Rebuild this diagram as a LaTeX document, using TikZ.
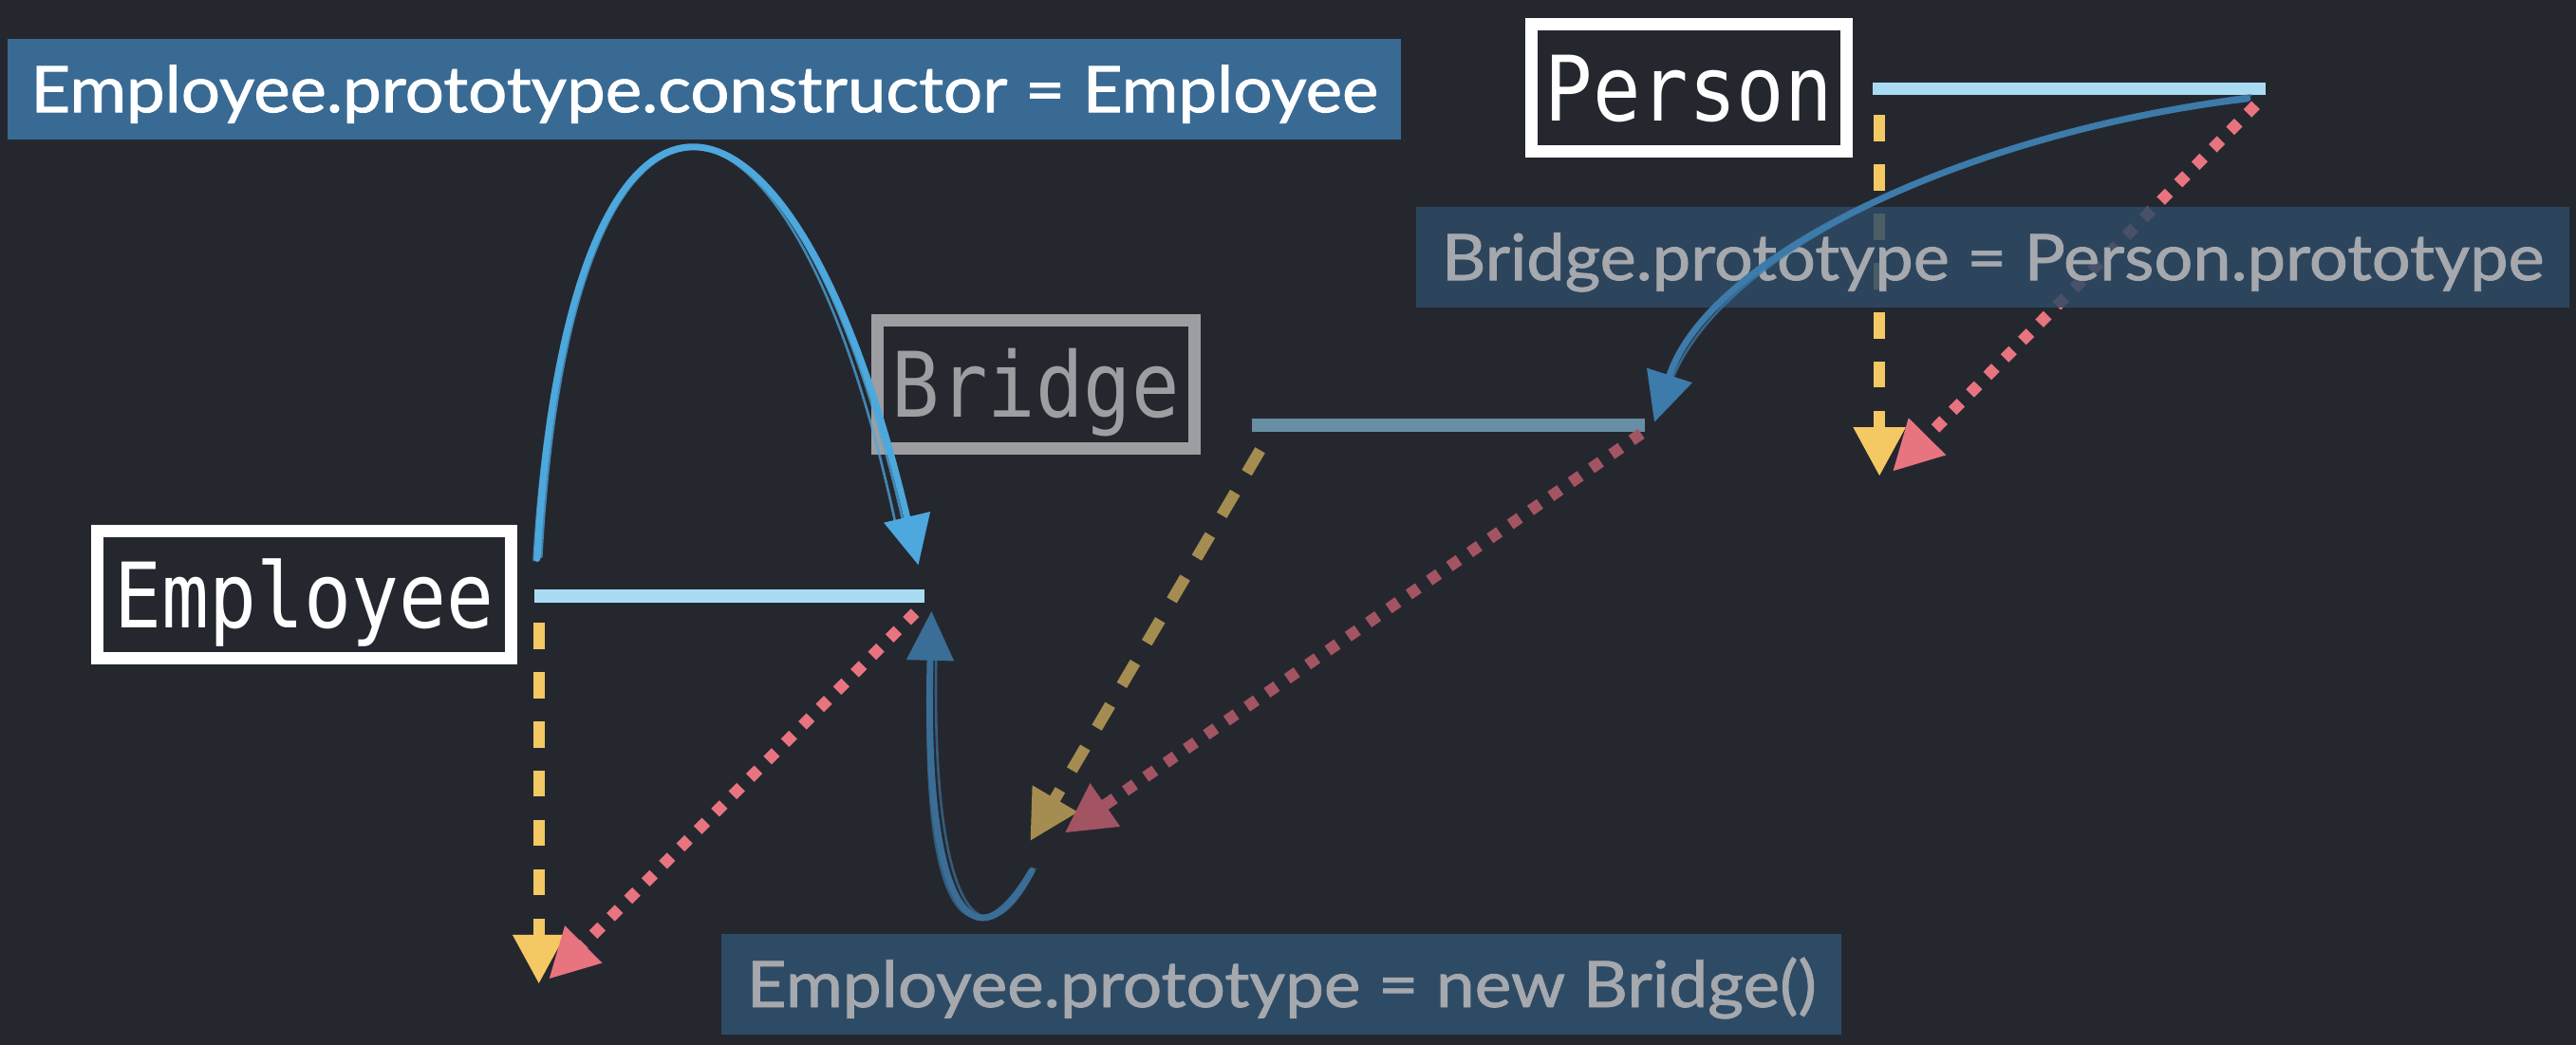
\documentclass[tikz,border=0pt]{standalone}
\usepackage{fontspec}
\usepackage{graphicx}
\setmainfont{Lato}[FakeBold=1.3]
\newfontfamily\lblfont{Lato}[FakeBold=1.2]
\newfontfamily\codefont{DejaVu Sans Mono}
\usetikzlibrary{arrows.meta}
\definecolor{bg}{HTML}{25272F}
\definecolor{lblbright}{HTML}{386A94}
\definecolor{lbldim}{HTML}{2E4B66}
\definecolor{txtdim}{HTML}{A5A8AD}
\definecolor{boxdim}{HTML}{9D9EA2}
\definecolor{protoline}{HTML}{A9DCF3}
\definecolor{protodim}{HTML}{668EA4}
\definecolor{yel}{HTML}{F4C862}
\definecolor{yeldim}{HTML}{A58C50}
\definecolor{redd}{HTML}{E87480}
\definecolor{reddim}{HTML}{A35462}
\definecolor{bluebright}{HTML}{4DA8DD}
\definecolor{bluemid}{HTML}{3C7BAA}
\definecolor{bluedim}{HTML}{3A6E96}
\newcommand{\fitw}[2]{\resizebox{#1}{\height}{#2}}
\tikzset{
  classbox/.style={draw=#1, text=#1, line width=7.5pt, minimum width=192pt, minimum height=77.5pt, inner sep=0pt, text height=40pt, text depth=0pt, font=\codefont\fontsize{55}{60}\selectfont},
  codelbl/.style={fill=#1, minimum height=61pt, inner sep=0pt, text height=28pt, text depth=0pt, font=\lblfont\fontsize{39}{45}\selectfont},
  protobar/.style={draw=#1, line width=8pt},
  yeldash/.style={draw=#1, line width=7pt, dash pattern=on 16pt off 14pt, -{Triangle[length=30pt,width=30pt]}},
  reddot/.style={draw=#1, line width=7pt, dash pattern=on 7pt off 8pt, -{Triangle[length=30pt,width=30pt]}},
  sketch/.style={draw=#1, line width=4pt, line cap=round},
  sketchthin/.style={draw=#1, line width=1.5pt, opacity=.75, line cap=round},
  sketchtip/.style={-{Triangle[length=30pt,width=28pt]}}
}
\begin{document}
\begin{tikzpicture}[x=1pt,y=-1pt]
\useasboundingbox (0,0) rectangle (1568,636);
\fill[bg] (0,0) rectangle (1568,636);

% class boxes
\node[classbox=white] (person) at (1028,53.5) {\fitw{175pt}{Person}};
\node[classbox=boxdim, minimum width=193pt] (bridge) at (630.5,234) {\fitw{175pt}{Bridge}};
\node[classbox=white, minimum width=252pt] (employee) at (185,362) {\fitw{231pt}{Employee}};

% prototype bars
\coordinate (pL) at (1140,54);  \coordinate (pR) at (1379,54);
\coordinate (bL) at (762,259);  \coordinate (bR) at (1001,259);
\coordinate (eL) at (325,363);  \coordinate (eR) at (563,363);
\draw[protobar=protoline] (pL) -- (pR);
\draw[protobar=protodim] (bL) -- (bR);
\draw[protobar=protoline] (eL) -- (eR);

% dashed / dotted arrows
\coordinate (eYs) at (328,379); \coordinate (eYt) at (328,599);
\coordinate (eRs) at (557,373); \coordinate (eRt) at (334,596);
\coordinate (bYs) at (767,274); \coordinate (bYt) at (627,512);
\coordinate (bRs) at (999,264); \coordinate (bRt) at (648,507);
\coordinate (pYs) at (1144,70); \coordinate (pYt) at (1144,290);
\coordinate (pRs) at (1373,64); \coordinate (pRt) at (1152,287);
\draw[yeldash=yel] (eYs) -- (eYt);
\draw[reddot=redd] (eRs) -- (eRt);
\draw[yeldash=yeldim] (bYs) -- (bYt);
\draw[reddot=reddim] (bRs) -- (bRt);
\draw[yeldash=yel] (pYs) -- (pYt);
\draw[reddot=redd] (pRs) -- (pRt);

% code labels
\node[codelbl=lblbright, minimum width=848.6pt, text=white] (lblTop) at (428.7,54.3) {\fitw{820pt}{Employee.prototype.constructor = Employee}};
\node[codelbl=lbldim, minimum width=702pt, text=txtdim, fill opacity=.85, text opacity=1] (lblBP) at (1213,156.5) {\fitw{671pt}{Bridge.prototype = Person.prototype}};
\node[codelbl=lbldim, minimum width=682pt, text=txtdim] (lblEP) at (780,599) {\fitw{651pt}{Employee.prototype = new Bridge()}};

% hand-drawn blue arrows
\coordinate (c1s) at (327,340); \coordinate (c1t) at (559,344);
\coordinate (c2s) at (1368,60); \coordinate (c2t) at (1007,257);
\coordinate (c3s) at (628,530); \coordinate (c3t) at (567,372);

\draw[sketch=bluebright, sketchtip] (c1s) .. controls (345,10) and (480,10) .. (c1t);
\draw[sketchthin=bluebright, transform canvas={xshift=2.5pt,yshift=1pt}] (c1s) .. controls (345,12) and (478,12) .. (548,322);
\draw[sketchthin=bluebright, transform canvas={xshift=-2pt,yshift=-1pt}] (c1s) .. controls (347,8) and (482,8) .. (548,322);

\draw[sketch=bluemid, sketchtip] (c2s) .. controls (1200,80) and (1040,155) .. (c2t);
\draw[sketchthin=bluemid, transform canvas={xshift=2pt,yshift=2pt}] (c2s) .. controls (1200,82) and (1042,155) .. (1014,238);
\draw[sketchthin=bluemid, transform canvas={xshift=-2pt,yshift=-1.5pt}] (c2s) .. controls (1198,78) and (1038,153) .. (1014,238);

\draw[sketch=bluedim, sketchtip] (c3s) .. controls (595,590) and (562,560) .. (c3t);
\draw[sketchthin=bluedim, transform canvas={xshift=2pt,yshift=1pt}] (c3s) .. controls (597,592) and (564,560) .. (568,395);
\draw[sketchthin=bluedim, transform canvas={xshift=-2pt,yshift=-1pt}] (c3s) .. controls (593,588) and (560,560) .. (568,395);
\end{tikzpicture}
\end{document}
